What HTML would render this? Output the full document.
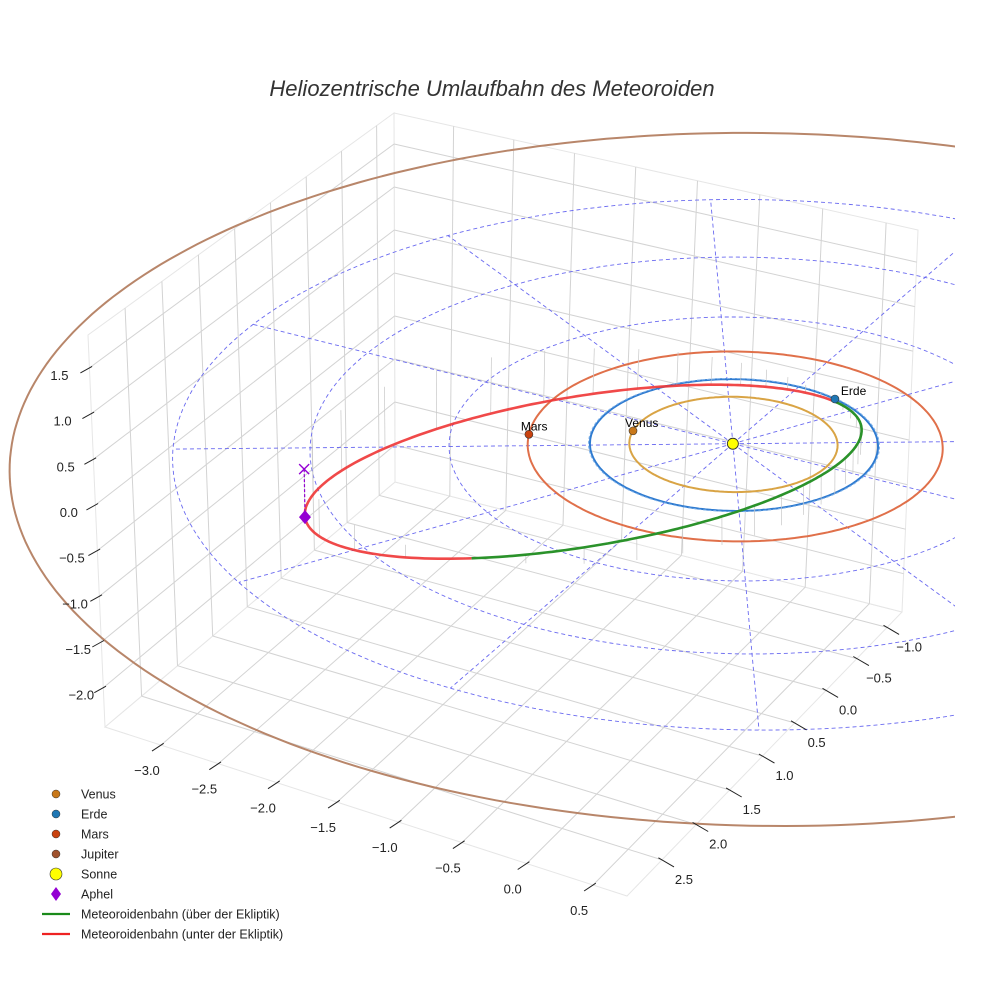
<!DOCTYPE html>
<html><head><meta charset="utf-8"><style>
html,body{margin:0;padding:0;background:#fff;}
svg{display:block;font-family:"Liberation Sans",sans-serif;}
</style></head><body>
<svg id="chart" width="984" height="984" viewBox="0 0 984 984" xmlns="http://www.w3.org/2000/svg">
<text x="492" y="96" text-anchor="middle" font-size="22" font-style="italic" fill="#333">Heliozentrische Umlaufbahn des Meteoroiden</text>
<defs><clipPath id="clip"><rect x="0" y="0" width="955" height="984"/></clipPath></defs>
<g id="panes"></g>
<g id="plot" clip-path="url(#clip)"></g>
<g id="ticks"></g>
<g id="legend"></g>
</svg>
<script>
// ---- data ----
const xTicks = [-3.0,-2.5,-2.0,-1.5,-1.0,-0.5,0.0,0.5];
const yTicks = [-1.0,-0.5,0.0,0.5,1.0,1.5,2.0,2.5];
const zTicks = [-2.0,-1.5,-1.0,-0.5,0.0,0.5,1.0,1.5];
const xRange = [-3.5,0.75];
const yRange = [-1.25,3.0];
const zRange = [-2.43,1.86];
const planetNames = ["Venus","Erde","Mars","Jupiter"];
const orbitRadii = [0.723,1.0,1.44,5.2];
const planetAngles = [167,-72,157,null];
const planetColors = ["#c8781a","#1f77b4","#c9420f","#a0522d"];
const orbitColors = ["#d9a445","#2f7bd0","#e0704a","#b8866a"];
const gridRadii = [1,2,3,4];
const radialAngles = [0,30,60,90,120,150,180,210,240,270,300,330];
// meteoroid orbital elements: a (AU), e, i (deg), node (deg), argument of perihelion (deg)
const meteorA = 2.0;
const meteorE = 0.55;
const meteorI = 16.5;
const meteorNode = -72;
const meteorOmega = 37;

// ---- projection (homography per height level through box corners) ----
const C = {B0:[388,482],R0:[895,612],L0:[98,727],F0:[620,896],B1:[387,113],R1:[911,230],L1:[81,335],F1:[612,465]};
function lerp(a,b,t){return [a[0]+(b[0]-a[0])*t,a[1]+(b[1]-a[1])*t];}
function homog(p0,p1,p2,p3,u,v){
  const dx1=p1[0]-p2[0],dx2=p3[0]-p2[0],dx3=p0[0]-p1[0]+p2[0]-p3[0];
  const dy1=p1[1]-p2[1],dy2=p3[1]-p2[1],dy3=p0[1]-p1[1]+p2[1]-p3[1];
  const den=dx1*dy2-dx2*dy1;
  const g=(dx3*dy2-dx2*dy3)/den, h=(dx1*dy3-dx3*dy1)/den;
  const a=p1[0]-p0[0]+g*p1[0], b=p3[0]-p0[0]+h*p3[0], c=p0[0];
  const d=p1[1]-p0[1]+g*p1[1], e=p3[1]-p0[1]+h*p3[1], f=p0[1];
  const w=g*u+h*v+1;
  return [(a*u+b*v+c)/w,(d*u+e*v+f)/w];
}
function P(x,y,z){
  const u=(x-xRange[0])/(xRange[1]-xRange[0]);
  const v=(y-yRange[0])/(yRange[1]-yRange[0]);
  const w=(z-zRange[0])/(zRange[1]-zRange[0]);
  const B=lerp(C.B0,C.B1,w),R=lerp(C.R0,C.R1,w),F=lerp(C.F0,C.F1,w),L=lerp(C.L0,C.L1,w);
  const p=homog(B,R,F,L,u,v);
  return [p[0]+7,p[1]];
}
const NS="http://www.w3.org/2000/svg";
function mk(tag,attrs,parent){const e=document.createElementNS(NS,tag);for(const k in attrs)e.setAttribute(k,attrs[k]);parent.appendChild(e);return e;}
function pathD(pts){return pts.map((p,i)=>(i?"L":"M")+p[0].toFixed(1)+" "+p[1].toFixed(1)).join("");}
const panes=document.getElementById("panes"), plot=document.getElementById("plot"), ticks=document.getElementById("ticks"), legend=document.getElementById("legend");
const [x0,x1]=xRange,[y0,y1]=yRange,[z0,z1]=zRange;
function poly(pts,name){const e=mk("path",{d:pathD(pts)+"Z",fill:"#fff",stroke:"#e6e6e6","stroke-width":1},panes);

}
poly([P(x0,y0,z0),P(x1,y0,z0),P(x1,y1,z0),P(x0,y1,z0)],"floor-pane");
poly([P(x0,y0,z0),P(x1,y0,z0),P(x1,y0,z1),P(x0,y0,z1)],"back-pane");
poly([P(x0,y0,z0),P(x0,y1,z0),P(x0,y1,z1),P(x0,y0,z1)],"left-pane");
function gl(a,b){const e=mk("path",{d:pathD([a,b]),stroke:"#d3d3d3","stroke-width":1,fill:"none"},panes);

}
xTicks.forEach(x=>{gl(P(x,y0,z0),P(x,y1,z0));gl(P(x,y0,z0),P(x,y0,z1));});
yTicks.forEach(y=>{gl(P(x0,y,z0),P(x1,y,z0));gl(P(x0,y,z0),P(x0,y,z1));});
zTicks.forEach(z=>{gl(P(x0,y0,z),P(x1,y0,z));gl(P(x0,y0,z),P(x0,y1,z));});
function tk(p,dx,dy,lbl,lx,ly,name){
  const l=mk("path",{d:pathD([[p[0]-dx*0.3,p[1]-dy*0.3],[p[0]+dx,p[1]+dy]]),stroke:"#222","stroke-width":1},ticks);
  
  
  const t=mk("text",{x:p[0]+lx,y:p[1]+ly,"text-anchor":"middle","font-size":13,fill:"#222"},ticks);
  t.textContent=lbl.replace("-","\u2212");
  
  
}
xTicks.forEach(x=>tk(P(x,y1,z0),-9,6,x.toFixed(1),-14,30,"x-axis"));
yTicks.forEach(y=>tk(P(x1,y,z0),12,7,y.toFixed(1),22,24,"y-axis"));
zTicks.forEach(z=>{const f=(1.5-z)/3.5;tk(P(x0,y1,z),-9,5,z.toFixed(1),-30+f*8,12,"z-axis");});
function circ(r,n){const pts=[];for(let k=0;k<=n;k++){const t=k/n*2*Math.PI;pts.push(P(r*Math.cos(t),r*Math.sin(t),0));}return pts;}
gridRadii.forEach(r=>{const e=mk("path",{d:pathD(circ(r,240)),fill:"none",stroke:"#6a6af0","stroke-width":0.9,"stroke-dasharray":"4 3"},plot);

});
const rmax=Math.max(...gridRadii);
radialAngles.forEach(a=>{const t=a*Math.PI/180;const pts=[];for(let k=0;k<=20;k++){const r=rmax*k/20;pts.push(P(r*Math.cos(t),r*Math.sin(t),0));}
const e=mk("path",{d:pathD(pts),fill:"none",stroke:"#6a6af0","stroke-width":0.9,"stroke-dasharray":"4 3"},plot);

});
orbitRadii.forEach((r,i)=>{const e=mk("path",{d:pathD(circ(r,300)),fill:"none",stroke:orbitColors[i],"stroke-width":2},plot);

});
{const e=mk("path",{d:pathD(circ(orbitRadii[1]*1.01,300)),fill:"none",stroke:"#7fb2ea","stroke-width":1,"stroke-dasharray":"3 2"},plot);

}
const d2r=Math.PI/180, ci=Math.cos(meteorI*d2r), si=Math.sin(meteorI*d2r), cO=Math.cos(meteorNode*d2r), sO=Math.sin(meteorNode*d2r);
function meteor(nuDeg){const nu=nuDeg*d2r;const r=meteorA*(1-meteorE*meteorE)/(1+meteorE*Math.cos(nu));const u=nu+meteorOmega*d2r;
return [r*(cO*Math.cos(u)-sO*Math.sin(u)*ci), r*(sO*Math.cos(u)+cO*Math.sin(u)*ci), r*Math.sin(u)*si];}
for(let nu=0;nu<360;nu+=9){const m=meteor(nu);const e=mk("path",{d:pathD([P(m[0],m[1],m[2]),P(m[0],m[1],0)]),stroke:"#c8c8c8","stroke-width":0.7},plot);

}
const above=[],below=[];
for(let k=-meteorOmega;k<=180-meteorOmega;k+=1)above.push(meteor(k));
for(let k=180-meteorOmega;k<=360-meteorOmega;k+=1)below.push(meteor(k));
{const e=mk("path",{d:pathD(below.map(m=>P(m[0],m[1],m[2]))),fill:"none",stroke:"#ee3535","stroke-width":2.6,"stroke-opacity":0.9},plot);

}
{const e=mk("path",{d:pathD(above.map(m=>P(m[0],m[1],m[2]))),fill:"none",stroke:"#2a922a","stroke-width":2.6},plot);

}
const aph=meteor(180), ap=P(aph[0],aph[1],aph[2]), ap0=P(aph[0],aph[1],0);
{const e=mk("path",{d:pathD([ap,ap0]),stroke:"#9400d3","stroke-width":1.2,"stroke-dasharray":"3 2"},plot);

}
{const e=mk("path",{d:`M${ap0[0]-5} ${ap0[1]-5}L${ap0[0]+5} ${ap0[1]+5}M${ap0[0]-5} ${ap0[1]+5}L${ap0[0]+5} ${ap0[1]-5}`,stroke:"#9400d3","stroke-width":1.4},plot);

}
{const e=mk("path",{d:`M${ap[0]} ${ap[1]-7}L${ap[0]+6} ${ap[1]}L${ap[0]} ${ap[1]+7}L${ap[0]-6} ${ap[1]}Z`,fill:"#9400d3"},plot);

}
planetAngles.forEach((a,i)=>{if(a===null)return;const t=a*d2r,r=orbitRadii[i];const p=P(r*Math.cos(t),r*Math.sin(t),0);
const c=mk("circle",{cx:p[0],cy:p[1],r:4,fill:planetColors[i],stroke:"#333","stroke-width":0.6},plot);


const t2=mk("text",{x:p[0]+(i===1?6:-8),y:p[1]-4,"font-size":12,fill:"#000"},plot);t2.textContent=planetNames[i];

});
{const s=P(0,0,0);const c=mk("circle",{cx:s[0],cy:s[1],r:5.5,fill:"#ffff00",stroke:"#333","stroke-width":0.9},plot);

}
const legendLabels=["Venus","Erde","Mars","Jupiter","Sonne","Aphel","Meteoroidenbahn (über der Ekliptik)","Meteoroidenbahn (unter der Ekliptik)"];
legendLabels.forEach((lbl,i)=>{const y=794+i*20;let m;
if(i<4)m=mk("circle",{cx:56,cy:y,r:4,fill:planetColors[i],stroke:"#333","stroke-width":0.5},legend);
else if(i===4)m=mk("circle",{cx:56,cy:y,r:6,fill:"#ffff00",stroke:"#333","stroke-width":0.6},legend);
else if(i===5)m=mk("path",{d:`M56 ${y-7}L61 ${y}L56 ${y+7}L51 ${y}Z`,fill:"#9400d3"},legend);
else m=mk("path",{d:`M42 ${y}L70 ${y}`,stroke:i===6?"#1a8a1a":"#ee2222","stroke-width":2.2},legend);


const t=mk("text",{x:81,y:y+4.5,"font-size":12.5,fill:"#222"},legend);t.textContent=lbl;

});
</script>
</body></html>
